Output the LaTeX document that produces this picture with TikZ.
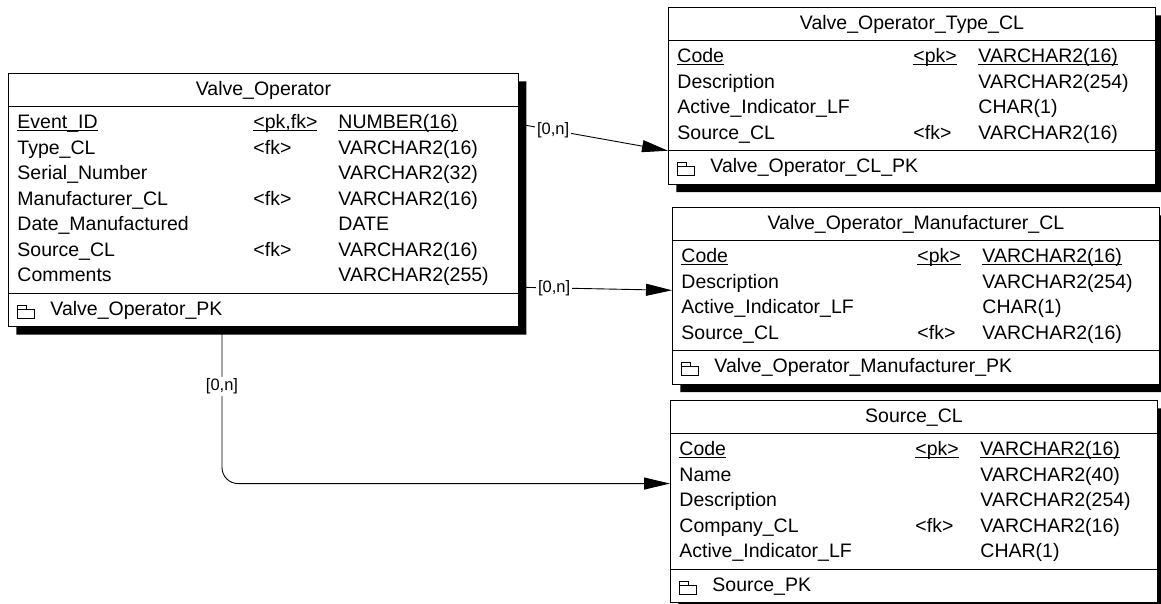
\documentclass[tikz,border=0pt]{standalone}
\usepackage{fontspec}
\setmainfont{Liberation Sans}
\usetikzlibrary{shapes.multipart, shadows, arrows.meta}
\setlength{\tabcolsep}{0pt}
\newcommand{\ulpk}[1]{\underline{\smash{#1}}}
\newcommand{\rstrut}{\rule[-7.65pt]{0pt}{25.5pt}}

\begin{document}
\begin{tikzpicture}[
  x=1pt, y=-1pt,
  ent/.style={draw, fill=white, line width=0.9pt, anchor=north west,
    rectangle split, rectangle split parts=3,
    inner xsep=9pt, inner ysep=3.5pt,
    font=\fontsize{19.5}{25.5}\selectfont,
    general shadow={fill=black, shadow xshift=8pt, shadow yshift=-8pt}},
  rel/.style={line width=0.9pt, -{Triangle[length=26pt, width=12pt]}},
  card/.style={font=\fontsize{16.5}{19}\selectfont, fill=white, inner sep=2pt}
]
\useasboundingbox (0,0) rectangle (1161,604);

\node[ent] (vo) at (8,73)
  {\rstrut Valve\_Operator
   \nodepart{two}
   \begin{tabular}{@{}p{236pt}p{85pt}p{171pt}@{}}
   \ulpk{Event\_ID} & \ulpk{<pk,fk>} & \ulpk{NUMBER(16)}\\
   Type\_CL & <fk> & VARCHAR2(16)\\
   Serial\_Number & & VARCHAR2(32)\\
   Manufacturer\_CL & <fk> & VARCHAR2(16)\\
   Date\_Manufactured & & DATE\\
   Source\_CL & <fk> & VARCHAR2(16)\\
   Comments & & VARCHAR2(255)
   \end{tabular}
   \nodepart{three}
   \makebox[492pt][l]{\rstrut\hspace{33pt}Valve\_Operator\_PK}};

\node[ent] (vot) at (668,7)
  {\rstrut Valve\_Operator\_Type\_CL
   \nodepart{two}
   \begin{tabular}{@{}p{236pt}p{65pt}p{168pt}@{}}
   \ulpk{Code} & \ulpk{<pk>} & \ulpk{VARCHAR2(16)}\\
   Description & & VARCHAR2(254)\\
   Active\_Indicator\_LF & & CHAR(1)\\
   Source\_CL & <fk> & VARCHAR2(16)
   \end{tabular}
   \nodepart{three}
   \makebox[469pt][l]{\rstrut\hspace{33pt}Valve\_Operator\_CL\_PK}};

\node[ent] (vom) at (672,207)
  {\rstrut Valve\_Operator\_Manufacturer\_CL
   \nodepart{two}
   \begin{tabular}{@{}p{236pt}p{65pt}p{168pt}@{}}
   \ulpk{Code} & \ulpk{<pk>} & \ulpk{VARCHAR2(16)}\\
   Description & & VARCHAR2(254)\\
   Active\_Indicator\_LF & & CHAR(1)\\
   Source\_CL & <fk> & VARCHAR2(16)
   \end{tabular}
   \nodepart{three}
   \makebox[469pt][l]{\rstrut\hspace{33pt}Valve\_Operator\_Manufacturer\_PK}};

\node[ent] (src) at (670,400)
  {\rstrut Source\_CL
   \nodepart{two}
   \begin{tabular}{@{}p{236pt}p{65pt}p{168pt}@{}}
   \ulpk{Code} & \ulpk{<pk>} & \ulpk{VARCHAR2(16)}\\
   Name & & VARCHAR2(40)\\
   Description & & VARCHAR2(254)\\
   Company\_CL & <fk> & VARCHAR2(16)\\
   Active\_Indicator\_LF & & CHAR(1)
   \end{tabular}
   \nodepart{three}
   \makebox[469pt][l]{\rstrut\hspace{33pt}Source\_PK}};

% key icons
\foreach \e in {vo, vot, vom, src}
  \draw[line width=0.7pt] ([shift={(9,-9)}]\e.south west) rectangle ++(17,-9)
    ++(-17,0) -- ++(0,-4) -- ++(9,0) -- ++(0,4);

\draw[rel] ([yshift=76pt]vo.east) -- node[card, pos=0.23] {[0,n]}
(vot.two split west);
\draw[rel] ([yshift=6pt]vo.two split east) -- node[card, pos=0.23] {[0,n]}
([yshift=5.5pt]vom.west);
\draw[rel, rounded corners=16pt] ([xshift=214pt]vo.south west)
  |- node[card, pos=0.19] {[0,n]} ([yshift=18pt]src.west);
\end{tikzpicture}
\end{document}
